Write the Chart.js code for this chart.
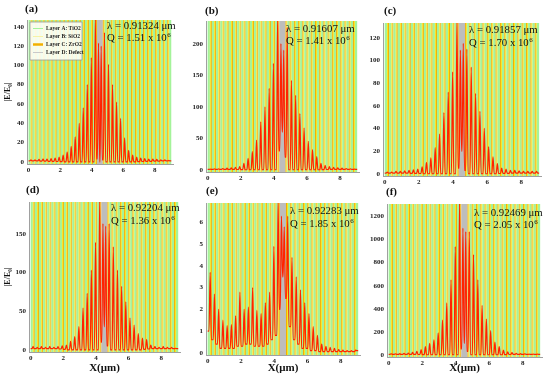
<!DOCTYPE html>
<html>
<head>
<meta charset="utf-8">
<script src="https://cdn.jsdelivr.net/npm/chart.js@4"></script>
<style>
  html, body { margin: 0; padding: 0; background: #fff; }
  #wrap { position: relative; width: 550px; height: 381px; overflow: hidden; }
  #wrap canvas { position: absolute; }
</style>
</head>
<body>
<div id="wrap"></div>
<script>
// layer stack (um): (A B C) x 17, defect D, (C B A) x 17
const layerA = 0.135, layerB = 0.06, layerC = 0.06, layerD = 0.37;
const periodsPerSide = 17;

const panelNames = ['(a)', '(b)', '(c)', '(d)', '(e)', '(f)'];
const lambdas = ['0.91324', '0.91607', '0.91857', '0.92204', '0.92283', '0.92469'];
const qFactors = ['1.51', '1.41', '1.70', '1.36', '1.85', '2.05'];
const yMaxes = [147, 236, 133, 191, 6.9, 1310];

const xTicks = [0, 2, 4, 6, 8];
const yTicksA = [0, 20, 40, 60, 80, 100, 120, 140];
const yTicksB = [0, 50, 100, 150, 200];
const yTicksC = [0, 20, 40, 60, 80, 100, 120];
const yTicksD = [0, 50, 100, 150];
const yTicksE = [0, 1, 2, 3, 4, 5, 6];
const yTicksF = [0, 200, 400, 600, 800, 1000, 1200];

const legendLabels = ['Layer A: TiO2', 'Layer B: SiO2', 'Layer C: ZrO2', 'Layer D: Defect'];

// |E/E0| maxima, one per period: left 17, inside defect 2, right 17
const peaksA = [2, 2, 2.5, 3, 3, 3.5, 4, 5, 7, 10, 16, 26, 40, 56, 80, 108, 152,
  123, 120,
  134, 101, 80, 62, 45, 25, 12, 7, 5, 4, 3.5, 3, 3, 2.5, 2, 2, 1.5];
const peaksB = [1, 1.5, 1.5, 2, 2.5, 3, 4, 5, 10, 18, 29, 47, 76, 100, 129, 169, 245,
  200, 190,
  226, 142, 118, 89, 66, 45, 32, 21, 10, 7, 5, 4, 3, 2.5, 2, 1.5, 1];
const peaksC = [1.5, 1.5, 2, 2, 2.5, 3, 3.5, 4, 6, 10, 14, 23, 35, 54, 72, 90, 138,
  109, 115,
  110, 94, 71, 55, 40, 24, 15, 9, 5, 4, 3, 3, 2.5, 2, 2, 2, 2];
const peaksD = [4, 3, 4, 3, 4, 3, 4, 5, 6, 11, 17, 30, 54, 73, 103, 139, 196,
  163, 160,
  163, 133, 103, 82, 62, 41, 32, 21, 15, 13, 6, 4, 3, 4, 3, 3, 2];
const peaksE = [3.7, 2.7, 2.0, 1.5, 1.25, 1.3, 1.7, 2.8, 2.0, 2.1, 3.0, 1.95, 1.8, 2.3, 2.8, 4.9, 7.1,
  6.3, 5.8,
  6.3, 4.4, 3.5, 2.9, 2.3, 1.8, 1.2, 0.8, 0.4, 0.3, 0.25, 0.2, 0.15, 0.12, 0.1, 0.1, 0.12];
const peaksF = [8, 8, 10, 12, 15, 20, 30, 45, 70, 100, 130, 190, 300, 450, 650, 940, 1340,
  1100, 1070,
  1070, 870, 650, 430, 310, 210, 110, 70, 40, 25, 18, 12, 10, 8, 6, 5, 5];

// minima at the period boundaries: left 18, defect centre 1, right 18
const troughsA = [1, 1, 1, 0.8, 0.8, 0.6, 0.5, 0.4, 0.3, 0.1, 0, 0, 0, 0, 0, 0, 0, 3,
  0,
  2, 0, 0, 0, 0, 0, 0, 0, 0.1, 0.3, 0.4, 0.5, 0.6, 0.8, 0.8, 1, 1, 1];
const troughsB = [0.5, 0.5, 0.5, 0.5, 0.5, 0.5, 0.5, 0.4, 0.2, 0, 0, 0, 0, 0, 0, 0, 0, 30,
  60,
  20, 0, 0, 0, 0, 0, 0, 0, 0, 0.2, 0.4, 0.5, 0.5, 0.5, 0.5, 0.5, 0.5, 0.5];
const troughsC = [0.5, 0.5, 0.5, 0.5, 0.5, 0.5, 0.4, 0.3, 0.2, 0, 0, 0, 0, 0, 0, 0, 0, 5,
  20,
  3, 0, 0, 0, 0, 0, 0, 0, 0.2, 0.3, 0.4, 0.5, 0.5, 0.5, 0.5, 0.5, 0.5, 0.5];
const troughsD = [1.5, 1.5, 1.5, 1.5, 1.5, 1.5, 1.5, 1, 0.5, 0, 0, 0, 0, 0, 0, 0, 0, 10,
  30,
  5, 0, 0, 0, 0, 0, 0, 0, 0, 0.5, 1, 1.5, 1.5, 1.5, 1.5, 1.5, 1.5, 1.5];
const troughsE = [1.0, 0.6, 0.4, 0.2, 0.2, 0.2, 0.2, 0.3, 0.3, 0.4, 0.4, 0.3, 0.3, 0.3, 0.4, 0.6, 0.8, 2,
  3.5,
  2.5, 1.2, 0.6, 0.4, 0.2, 0.2, 0.1, 0.1, 0.05, 0.05, 0.05, 0.05, 0.05, 0.05, 0.05, 0.05, 0.05, 0.1];
const troughsF = [3, 3, 3, 3, 3, 3, 3, 2, 1, 0, 0, 0, 0, 0, 0, 0, 0, 50,
  100,
  30, 0, 0, 0, 0, 0, 0, 0, 0, 1, 2, 3, 3, 3, 3, 3, 3, 3];

const allPeaks = [peaksA, peaksB, peaksC, peaksD, peaksE, peaksF];
const allTroughs = [troughsA, troughsB, troughsC, troughsD, troughsE, troughsF];
const allYTicks = [yTicksA, yTicksB, yTicksC, yTicksD, yTicksE, yTicksF];

// page geometry: canvas cell, plot frame, panel tag, note (x, baseline1, baseline2)
const layouts = [
  { cell: [0, 0, 182, 190], area: [27, 20, 173, 164], tag: [25, 12], note: [107, 29, 41] },
  { cell: [182, 0, 180, 190], area: [206, 21, 359, 172], tag: [205, 14], note: [286, 32, 44] },
  { cell: [362, 0, 188, 190], area: [383, 23, 541, 176], tag: [384, 14], note: [469, 33, 46] },
  { cell: [0, 178, 182, 203], area: [29, 202, 180, 352], tag: [26, 193], note: [111, 211, 224] },
  { cell: [182, 178, 180, 203], area: [206, 203, 360, 355], tag: [206, 194], note: [290, 214, 227] },
  { cell: [362, 178, 188, 203], area: [387, 204, 542, 357], tag: [386, 195], note: [474, 216, 228] }
];

const layerColors = { A: '#a4f39a', B: '#fae722', C: '#f2b000', D: '#bdbdbd' };
const serif = "'Liberation Serif', 'DejaVu Serif', serif";
const spikeHalf = 0.07;

const period = layerA + layerB + layerC;
const leftEnd = periodsPerSide * period;
const rightStart = leftEnd + layerD;

function buildStripes() {
  const out = [];
  let x = 0;
  for (let k = 0; k < periodsPerSide; k++) {
    out.push([x, x + layerA, 'A']); x += layerA;
    out.push([x, x + layerB, 'B']); x += layerB;
    out.push([x, x + layerC, 'C']); x += layerC;
  }
  out.push([x, x + layerD, 'D']); x += layerD;
  for (let k = 0; k < periodsPerSide; k++) {
    out.push([x, x + layerC, 'C']); x += layerC;
    out.push([x, x + layerB, 'B']); x += layerB;
    out.push([x, x + layerA, 'A']); x += layerA;
  }
  return out;
}
const stripes = buildStripes();

// x of every max, taken from the layer positions
const peakX = [];
for (let k = 0; k < periodsPerSide; k++) peakX.push(k * period + 0.15);
peakX.push(leftEnd + 0.095, leftEnd + 0.265);
for (let k = 0; k < periodsPerSide; k++) peakX.push(rightStart + k * period + 0.105);

// each max is a narrow spike; the minimum on each side holds until the next spike
function fieldPoints(peaks, troughs) {
  const pts = [{ x: 0, y: troughs[0] }];
  for (let i = 0; i < peaks.length; i++) {
    pts.push({ x: peakX[i] - spikeHalf, y: troughs[i] });
    pts.push({ x: peakX[i], y: peaks[i] });
    pts.push({ x: peakX[i] + spikeHalf, y: troughs[i + 1] });
  }
  pts.push({ x: rightStart + periodsPerSide * period, y: troughs[troughs.length - 1] });
  return pts;
}

const decorations = {
  id: 'decorations',
  beforeDatasetsDraw(chart) {
    const { ctx, chartArea } = chart;
    const xs = chart.scales.x;
    ctx.save();
    ctx.beginPath();
    ctx.rect(chartArea.left, chartArea.top, chartArea.right - chartArea.left, chartArea.bottom - chartArea.top);
    ctx.clip();
    stripes.forEach(s => {
      const x0 = xs.getPixelForValue(s[0]);
      const x1 = xs.getPixelForValue(s[1]);
      ctx.fillStyle = layerColors[s[2]];
      ctx.fillRect(x0, chartArea.top, x1 - x0, chartArea.bottom - chartArea.top);
    });
    ctx.restore();
  },
  afterDraw(chart) {
    const idx = chart.options.plugins.decorations.index;
    const lay = layouts[idx];
    const ox = lay.cell[0], oy = lay.cell[1];
    const ctx = chart.ctx;
    ctx.save();
    ctx.fillStyle = '#111';
    ctx.textBaseline = 'alphabetic';
    ctx.textAlign = 'left';

    // panel tag
    ctx.font = 'bold 11px ' + serif;
    ctx.fillText(panelNames[idx], lay.tag[0] - ox, lay.tag[1] - oy);

    // wavelength and Q notes
    const nx = lay.note[0] - ox;
    ctx.font = '10.8px ' + serif;
    ctx.fillText('\u03bb = ' + lambdas[idx] + ' \u03bcm', nx, lay.note[1] - oy);
    const qText = 'Q = ' + qFactors[idx] + ' x 10';
    ctx.fillText(qText, nx, lay.note[2] - oy);
    const qw = ctx.measureText(qText).width;
    ctx.font = '7px ' + serif;
    ctx.fillText('6', nx + qw + 0.5, lay.note[2] - oy - 4.5);

    // axis titles
    if (idx === 0 || idx === 3) {
      ctx.save();
      ctx.font = 'bold 8px ' + serif;
      ctx.textAlign = 'center';
      ctx.translate(10 - ox, (lay.area[1] + lay.area[3]) / 2 - oy);
      ctx.rotate(-Math.PI / 2);
      ctx.fillText('|E/E\u2080|', 0, 0);
      ctx.restore();
    }
    if (idx >= 3) {
      ctx.font = 'bold 11px ' + serif;
      ctx.textAlign = 'center';
      ctx.fillText('X(\u03bcm)', (lay.area[0] + lay.area[2]) / 2 - ox, 371 - oy);
    }

    // legend box in panel (a)
    if (idx === 0) {
      const bx = 30 - ox, by = 22 - oy, bw = 52, bh = 38;
      ctx.fillStyle = 'rgba(255,255,255,0.85)';
      ctx.strokeStyle = '#9a9a9a';
      ctx.lineWidth = 0.8;
      ctx.beginPath();
      ctx.rect(bx, by, bw, bh);
      ctx.fill();
      ctx.stroke();
      const lineCols = ['#a4f39a', '#f6f3a6', '#f2b000', '#c9c9c9'];
      const lineWs = [1, 1, 2.5, 1];
      ctx.font = 'bold 5.5px ' + serif;
      ctx.textAlign = 'left';
      ctx.textBaseline = 'middle';
      legendLabels.forEach((lab, i) => {
        const yy = by + 6.5 + i * 8;
        ctx.strokeStyle = lineCols[i];
        ctx.lineWidth = lineWs[i];
        ctx.beginPath();
        ctx.moveTo(bx + 3, yy);
        ctx.lineTo(bx + 13, yy);
        ctx.stroke();
        ctx.fillStyle = '#222';
        ctx.fillText(lab, bx + 16, yy);
      });
    }
    ctx.restore();
  }
};

const wrap = document.getElementById('wrap');

layouts.forEach((lay, idx) => {
  const [cx, cy, cw, ch] = lay.cell;
  const [L, T, R, B] = lay.area;
  const cv = document.createElement('canvas');
  cv.style.left = cx + 'px';
  cv.style.top = cy + 'px';
  cv.style.width = cw + 'px';
  cv.style.height = ch + 'px';
  cv.width = cw;
  cv.height = ch;
  wrap.appendChild(cv);

  const ticksY = allYTicks[idx];
  const yMax = yMaxes[idx];

  new Chart(cv, {
    type: 'line',
    data: {
      datasets: [{
        data: fieldPoints(allPeaks[idx], allTroughs[idx]),
        borderColor: '#ff2200',
        borderWidth: 1.2,
        pointRadius: 0,
        fill: false,
        cubicInterpolationMode: 'monotone'
      }]
    },
    options: {
      responsive: false,
      animation: false,
      events: [],
      layout: { padding: { left: 0, top: T - cy, right: cx + cw - R, bottom: 0 } },
      scales: {
        x: {
          type: 'linear',
          min: -0.1,
          max: 9.15,
          afterBuildTicks: s => { s.ticks = xTicks.map(v => ({ value: v })); },
          afterFit: s => { s.height = cy + ch - B; },
          grid: { display: false, drawTicks: false },
          border: { display: true, color: '#a0a0a0', width: 1 },
          ticks: {
            padding: 2,
            color: '#222',
            font: { family: serif, size: 7, weight: 'bold' },
            callback: v => String(v)
          }
        },
        y: {
          type: 'linear',
          min: -0.015 * yMax,
          max: yMax,
          afterBuildTicks: s => { s.ticks = ticksY.map(v => ({ value: v })); },
          afterFit: s => { s.width = L - cx; },
          grid: { display: false, drawTicks: false },
          border: { display: true, color: '#a0a0a0', width: 1 },
          ticks: {
            padding: 3,
            color: '#222',
            font: { family: serif, size: 7, weight: 'bold' },
            callback: v => String(v)
          }
        }
      },
      plugins: {
        legend: { display: false },
        tooltip: { enabled: false },
        decorations: { index: idx }
      }
    },
    plugins: [decorations]
  });
});
</script>
</body>
</html>
